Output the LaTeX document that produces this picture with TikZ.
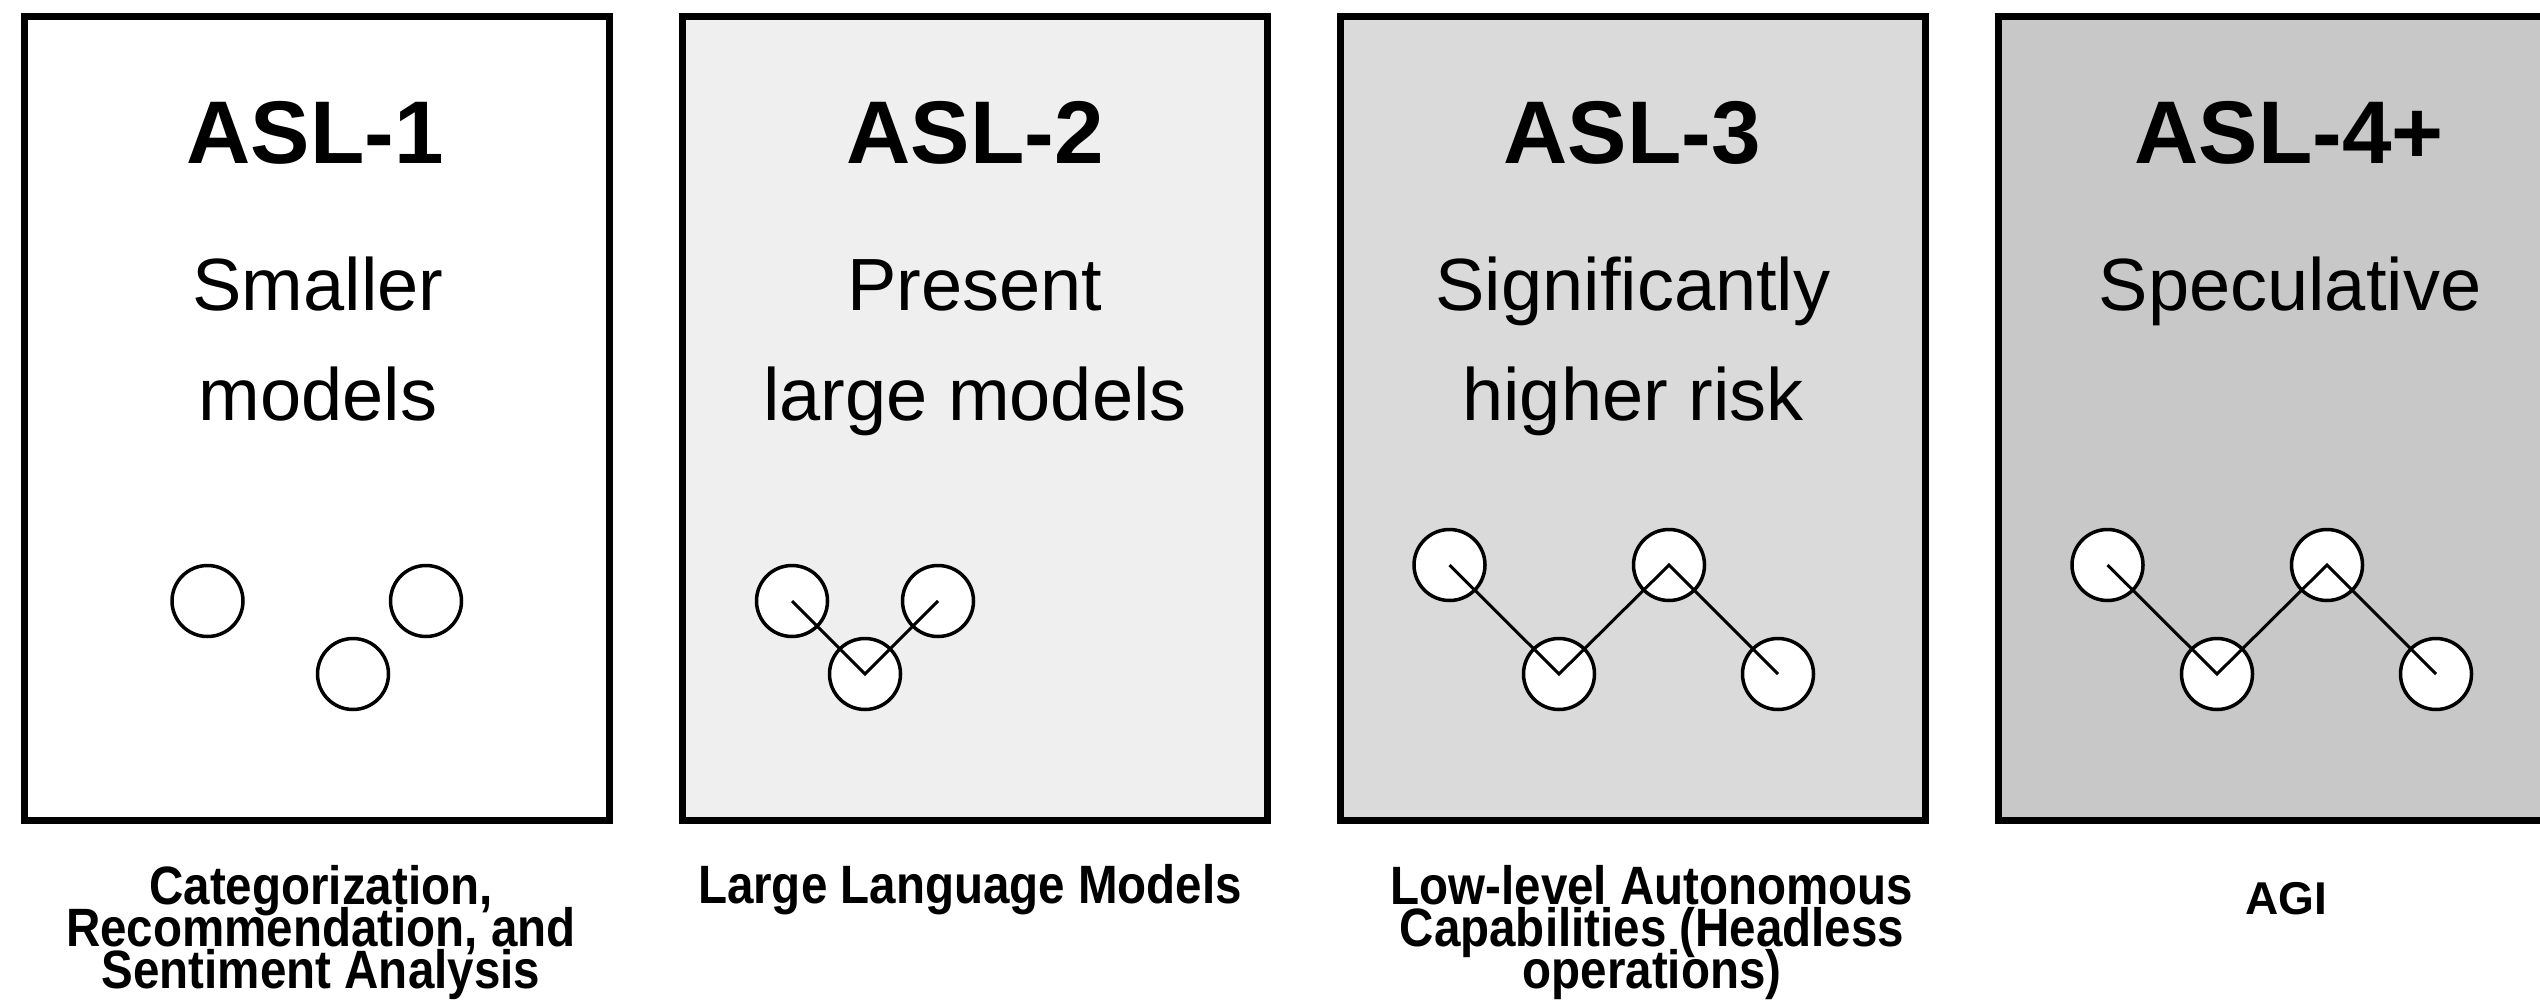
\documentclass[tikz,border=0pt]{standalone}
\usepackage{fontspec}
\setmainfont{Liberation Sans}
\newfontfamily\captionfont[FakeStretch=0.88]{Liberation Sans}
\newcommand\captsetup{\captionfont\bfseries\fontsize{54}{42}\selectfont\lineskiplimit-100pt\relax}

\definecolor{lvlone}{HTML}{FFFFFF}
\definecolor{lvltwo}{HTML}{EFEFEF}
\definecolor{lvlthree}{HTML}{DADADA}
\definecolor{lvlfour}{HTML}{C8C8C8}

\begin{document}
\begin{tikzpicture}[x=1pt,y=-1pt,
  panel/.style={draw=black, line width=7pt, minimum width=585pt, minimum height=804pt,
                inner sep=0pt, outer sep=0pt, anchor=north west},
  dot/.style={circle, draw=black, fill=white, line width=3.5pt, minimum size=71pt, inner sep=0pt},
  link/.style={line width=3pt, line join=miter},
  title/.style={font=\bfseries\fontsize{89}{89}\selectfont, anchor=base, inner sep=0pt},
  sub/.style={font=\fontsize{74}{110}\selectfont, align=center, anchor=base, inner sep=0pt},
  capt/.style={font=\captsetup, align=center, anchor=base, inner sep=0pt}]

\useasboundingbox (0,0) rectangle (2540,1000);
\clip (0,0) rectangle (2540,1000);

% level panels
\node[panel, fill=lvlone]   (p1) at (24.5,16.5) {};
\node[panel, fill=lvltwo]   (p2) at (682.5,16.5) {};
\node[panel, fill=lvlthree] (p3) at (1340.5,16.5) {};
\node[panel, fill=lvlfour]  (p4) at (1998.5,16.5) {};

% headings
\node[title] (t1) at (315,164) {ASL-1};
\node[title] (t2) at (975,164) {ASL-2};
\node[title] (t3) at (1632,164) {ASL-3};
\node[title] (t4) at (2289,164) {ASL-4+};

% descriptions (base anchor sits on the last line)
\node[sub] (s1) at (318,420) {Smaller\\models};
\node[sub] (s2) at (975,420) {Present\\large models};
\node[sub] (s3) at (1633,420) {Significantly\\higher risk};
\node[sub] (s4) at (2290,310) {Speculative};

% ASL-1: unconnected units
\node[dot] (u11) at (207.5,601) {};
\node[dot] (u12) at (426,601) {};
\node[dot] (u13) at (353,674) {};

% ASL-2: three linked units
\node[dot] (u21) at (792,601) {};
\node[dot] (u22) at (865,674) {};
\node[dot] (u23) at (938,601) {};
\draw[link] (u21.center) -- (u22.center) -- (u23.center);

% ASL-3: four linked units
\node[dot] (u31) at (1449.5,565) {};
\node[dot] (u32) at (1559,674) {};
\node[dot] (u33) at (1669,565) {};
\node[dot] (u34) at (1778,674) {};
\draw[link] (u31.center) -- (u32.center) -- (u33.center) -- (u34.center);

% ASL-4+: four linked units
\node[dot] (u41) at (2107.5,565) {};
\node[dot] (u42) at (2217,674) {};
\node[dot] (u43) at (2327,565) {};
\node[dot] (u44) at (2436,674) {};
\draw[link] (u41.center) -- (u42.center) -- (u43.center) -- (u44.center);

% captions under the panels (base anchor sits on the last line)
\node[capt] (c1) at (321,988) {Categorization,\\Recommendation, and\\Sentiment Analysis};
\node[capt] (c2) at (970,903) {Large Language Models};
\node[capt] (c3) at (1652,988) {Low-level Autonomous\\Capabilities (Headless\\operations)};
\node[font=\bfseries\fontsize{46}{46}\selectfont, anchor=base, inner sep=0pt] (c4) at (2286,914) {AGI};
\end{tikzpicture}
\end{document}
